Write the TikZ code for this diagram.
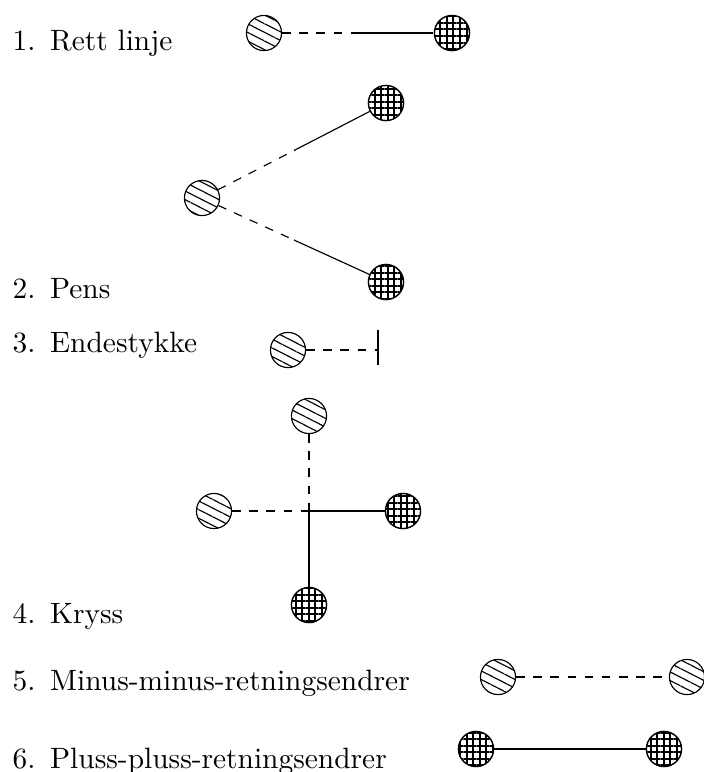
\documentclass[tikz,border=0pt]{standalone}
\usepackage{tikz}
\usetikzlibrary{patterns.meta,calc}
\tikzset{
	minuspol/.style={circle, draw, line width=0.4pt, inner sep=0pt, minimum size=12.3pt,
		pattern={Lines[angle=-27, distance=2.7pt, line width=0.4pt]}},
	plusspol/.style={circle, draw, line width=0.5pt, inner sep=0pt, minimum size=12.3pt,
		pattern={Hatch[angle=0, distance=2.3pt, line width=0.7pt]}},
	lbl/.style={anchor=base west, inner sep=0pt, font=\fontsize{10.3}{12}\selectfont},
	kant/.style={line width=0.4pt},
	stiplet/.style={line width=0.4pt, dashed}
}

\begin{document}
\begin{tikzpicture}[x=0.35pt, y=-0.35pt]
	\useasboundingbox (0,0) rectangle (703,772);
	
	%% -- 1. straight line
	\node[lbl] (t1) at (12,50.7) {1.\hspace{0.5em}Rett linje};
	\node[minuspol] (a1) at (264,33) {};
	\node[plusspol] (b1) at (452,33) {};
	\coordinate (m1) at ($(a1)!0.5!(b1)$);
	\draw[stiplet] (a1) -- (m1);
	\draw[kant] (m1) -- (b1);
	
	%% -- 2. fork
	\node[lbl] (t2) at (12,298) {2.\hspace{0.5em}Pens};
	\node[minuspol] (a2) at (202,198) {};
	\node[plusspol] (b2) at (386,103) {};
	\node[plusspol] (c2) at (386,282) {};
	\coordinate (m2) at ($(a2)!0.5!(b2)$);
	\coordinate (n2) at ($(a2)!0.5!(c2)$);
	\draw[stiplet] (a2) -- (m2);
	\draw[kant] (m2) -- (b2);
	\draw[stiplet] (a2) -- (n2);
	\draw[kant] (n2) -- (c2);
	
	%% -- 3. end piece
	\node[lbl] (t3) at (12,352) {3.\hspace{0.5em}Endestykke};
	\node[minuspol] (a3) at (288,350) {};
	\coordinate (e3) at (378,350);
	\draw[stiplet] (a3) -- (e3);
	\draw[kant] ([yshift=7pt]e3) -- ([yshift=-5.3pt]e3);
	
	%% -- 4. crossing
	\node[lbl] (t4) at (12,623) {4.\hspace{0.5em}Kryss};
	\coordinate (k4) at (309,511);
	\node[minuspol] (a4) at (309,416) {};
	\node[minuspol] (b4) at (214,511) {};
	\node[plusspol] (c4) at (403,511) {};
	\node[plusspol] (d4) at (309,605) {};
	\draw[stiplet] (a4) -- (k4);
	\draw[stiplet] (b4) -- (k4);
	\draw[kant] (k4) -- (c4);
	\draw[kant] (k4) -- (d4);
	
	%% -- 5. minus-minus
	\node[lbl] (t5) at (12,690) {5.\hspace{0.5em}Minus-minus-retningsendrer};
	\node[minuspol] (a5) at (498,677) {};
	\node[minuspol] (b5) at (687,677) {};
	\draw[stiplet] (a5) -- (b5);
	
	%% -- 6. plus-plus
	\node[lbl] (t6) at (12,768) {6.\hspace{0.5em}Pluss-pluss-retningsendrer};
	\node[plusspol] (a6) at (476,749) {};
	\node[plusspol] (b6) at (664,749) {};
	\draw[kant] (a6) -- (b6);
	
\end{tikzpicture}
\end{document}
